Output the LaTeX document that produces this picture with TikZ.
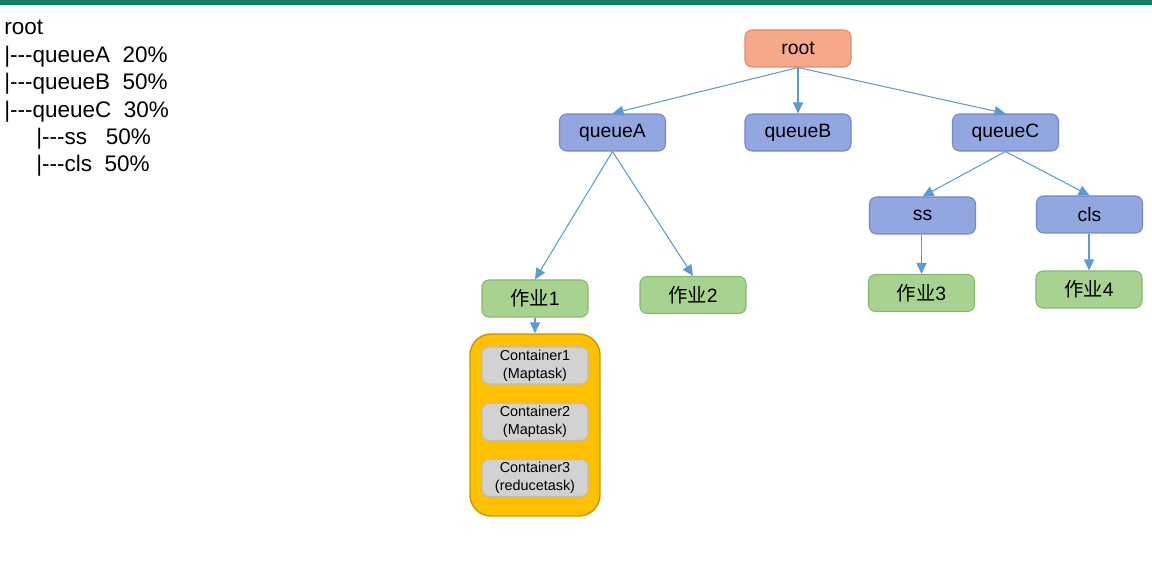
\documentclass[tikz,border=0pt]{standalone}
\usepackage{fontspec}
\setmainfont{Liberation Sans}
\newfontfamily\plainsans{Liberation Sans}
\newfontfamily\cjk{Noto Sans CJK SC}
\usetikzlibrary{arrows.meta,positioning}
\definecolor{cbar}{HTML}{127D60}
\definecolor{clink}{HTML}{5B9BD5}
\definecolor{cqfill}{HTML}{92A6E0}
\definecolor{cqdraw}{HTML}{7486CC}
\definecolor{cjfill}{HTML}{A8D290}
\definecolor{cjdraw}{HTML}{86B86C}
\definecolor{crfill}{HTML}{F5A98A}
\definecolor{crdraw}{HTML}{E48A66}
\definecolor{cgold}{HTML}{FFC000}
\definecolor{cgolddraw}{HTML}{C99700}
\definecolor{ccfill}{HTML}{D2D2D2}
\definecolor{ccdraw}{HTML}{BDBDBD}

\begin{document}
\begin{tikzpicture}[
    >={Triangle[length=2.2mm, width=2mm]},
    link/.style={->, line width=0.6pt, draw=clink, color=clink},
    box/.style={line width=0.6pt, rounded corners=4pt, align=center,
                minimum height=7.4mm, minimum width=21.2mm, inner sep=0pt,
                font=\fontsize{11}{13}\selectfont},
    queue/.style={box, fill=cqfill, draw=cqdraw},
    job/.style={box, fill=cjfill, draw=cjdraw},
    top/.style={box, fill=crfill, draw=crdraw},
    cont/.style={box, fill=ccfill, draw=ccdraw, font=\fontsize{8.2}{10}\selectfont},
  ]
  \useasboundingbox (0,0) rectangle (23.04,-11.5);
  \fill[cbar] (0,0) rectangle (23.04,-0.1);

  % capacity listing
  \node[anchor=north west, align=left, inner sep=0pt,
        font=\plainsans\fontsize{12.8}{15.6}\selectfont] (list) at (0.08,-0.40)
    {root\\
     |---queueA\ \ 20\%\\
     |---queueB\ \ 50\%\\
     |---queueC\ \ 30\%\\
     \hspace*{0.64cm}|---ss\ \ \ 50\%\\
     \hspace*{0.64cm}|---cls\ \ 50\%};

  % queue tree
  \node[top] (root) at (15.96,-0.97) {root};
  \node[queue] (qA) at (12.25,-2.65) {queueA};
  \node[queue] (qB) at (15.96,-2.65) {queueB};
  \node[queue] (qC) at (20.11,-2.65) {queueC};
  \node[queue] (ss) at (18.45,-4.31) {ss};
  \node[queue] (cls) at (21.79,-4.29) {cls};
  \node[job] (job1) at (10.70,-5.97) {{\cjk 作业}1};
  \node[job] (job2) at (13.86,-5.90) {{\cjk 作业}2};
  \node[job] (job3) at (18.43,-5.86) {{\cjk 作业}3};
  \node[job] (job4) at (21.78,-5.79) {{\cjk 作业}4};

  % containers of job 1
  \node[draw=cgolddraw, fill=cgold, line width=0.8pt, rounded corners=12pt,
        minimum width=26mm, minimum height=36.4mm] (grp) at (10.70,-8.50) {};
  \node[cont] (c1) at (10.70,-7.31) {Container1\\(Maptask)};
  \node[cont] (c2) at (10.70,-8.44) {Container2\\(Maptask)};
  \node[cont] (c3) at (10.70,-9.56) {Container3\\(reducetask)};

  \draw[link] (root.south) -- (qA.north);
  \draw[link] (root.south) -- (qB.north);
  \draw[link] (root.south) -- (qC.north);
  \draw[link] (qA.south) -- (job1.north);
  \draw[link] (qA.south) -- (job2.north);
  \draw[link] (qC.south) -- (ss.north);
  \draw[link] (qC.south) -- (cls.north);
  \draw[link] (job3.north |- ss.south) -- (job3.north);
  \draw[link] (job4.north |- cls.south) -- (job4.north);
  \draw[link] (job1.south) -- (grp.north);
\end{tikzpicture}
\end{document}
